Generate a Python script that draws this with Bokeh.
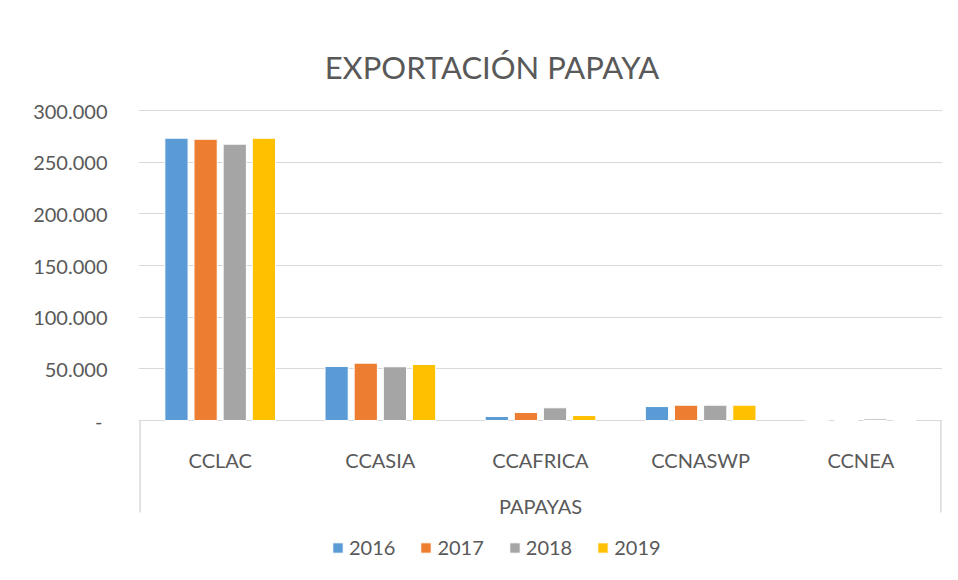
from bokeh.plotting import figure
from bokeh.models import (ColumnDataSource, FactorRange, Range1d, FixedTicker,
                          CustomJSTickFormatter, Legend, LegendItem)
from bokeh.transform import dodge
from bokeh.core.properties import value
from bokeh.embed import file_html
from bokeh.resources import INLINE

# ---- data ----
categories = ["CCLAC", "CCASIA", "CCAFRICA", "CCNASWP", "CCNEA"]
years = ["2016", "2017", "2018", "2019"]
v2016 = [273200, 52300, 3900, 13500, 0]
v2017 = [272200, 55500, 7700, 14800, 0]
v2018 = [267400, 52000, 12300, 14800, 1500]
v2019 = [273200, 54200, 4800, 14800, 0]
y_ticks = [0, 50000, 100000, 150000, 200000, 250000, 300000]
title_text = "EXPORTACIÓN PAPAYA"
group_label = "PAPAYAS"

colors = ["#5B9BD5", "#ED7D31", "#A5A5A5", "#FFC000"]
FONT = "Lato"
TXT = "#595959"

source = ColumnDataSource(dict(cat=categories, y2016=v2016, y2017=v2017,
                               y2018=v2018, y2019=v2019))

# ---- layout geometry (pixels, figure coordinates) ----
W, H = 942, 564
FRAME_LEFT = 138
zero_px = 420          # pixel row of value 0
top_px = 110           # pixel row of value 300000
per_px = 300000.0 / (zero_px - top_px)
y_end = 300000 + top_px * per_px
y_start = -(H - zero_px) * per_px
pad_side = 0.01        # padding (category units) on each side
px_per_unit_x = (W - FRAME_LEFT) / (5 + 2 * pad_side)
x0_px = FRAME_LEFT + px_per_unit_x * pad_side


def ypix(row):
    """data value located at a given pixel row"""
    return (zero_px - row) * per_px


def xpix(col):
    """synthetic x coordinate located at a given pixel column"""
    return (col - x0_px) / px_per_unit_x


p = figure(width=W, height=H, output_backend="svg", toolbar_location=None,
           x_range=FactorRange(*categories, range_padding=pad_side,
                               range_padding_units="absolute"),
           y_range=Range1d(y_start, y_end),
           min_border_left=FRAME_LEFT, min_border_right=0,
           min_border_top=0, min_border_bottom=0)
p.outline_line_color = None
p.background_fill_color = "white"
p.border_fill_color = "white"
p.xaxis.visible = False
p.xgrid.visible = False

yax = p.yaxis[0]
yax.ticker = FixedTicker(ticks=y_ticks)
yax.formatter = CustomJSTickFormatter(code="""
    if (tick == 0) { return '-\\u00a0'; }
    return Math.round(tick).toLocaleString('de-DE');
""")
yax.axis_line_color = None
yax.major_tick_line_color = None
yax.minor_tick_line_color = None
yax.major_label_text_font = FONT
yax.major_label_text_font_size = "20px"
yax.major_label_text_color = TXT
yax.major_label_standoff = 25

p.ygrid.ticker = FixedTicker(ticks=y_ticks)
p.ygrid.grid_line_color = "#D9D9D9"
p.ygrid.grid_line_width = 1

offsets = [-0.273, -0.091, 0.091, 0.273]
bar_w = 0.145
renderers = []
for yr, col, off in zip(years, colors, offsets):
    r = p.vbar(x=dodge("cat", off, range=p.x_range), top="y" + yr, width=bar_w,
               source=source, fill_color=col, line_color="white", line_width=1)
    renderers.append(r)

# separators of the multi-level category axis
sep_depth = ypix(512)
p.segment(x0=[0, 5], y0=[0, 0], x1=[0, 5], y1=[sep_depth, sep_depth],
          line_color="#D9D9D9", line_width=1.5)

# category labels
p.text(x=categories, y=[ypix(459)] * len(categories), text=categories,
       text_align="center", text_baseline="alphabetic", text_font=value(FONT),
       text_font_size="20px", text_color=TXT)
# group label
p.text(x=[2.5], y=[ypix(505)], text=[group_label],
       text_align="center", text_baseline="alphabetic", text_font=value(FONT),
       text_font_size="20px", text_color=TXT)
# title
p.text(x=[xpix(491.5)], y=[ypix(66.5)], text=[title_text],
       text_align="center", text_baseline="alphabetic",
       text_font=value(FONT), text_font_size="31px", text_color=TXT)

legend = Legend(items=[LegendItem(label=yr, renderers=[r])
                       for yr, r in zip(years, renderers)],
                orientation="horizontal", location=(331 - FRAME_LEFT, 5),
                glyph_width=13, glyph_height=13, label_standoff=5, spacing=24,
                padding=0, margin=0,
                background_fill_alpha=0, border_line_alpha=0,
                label_text_font=FONT, label_text_font_size="20px",
                label_text_color=TXT)
p.add_layout(legend, "center")

open("out.html", "w").write(file_html(p, INLINE))
